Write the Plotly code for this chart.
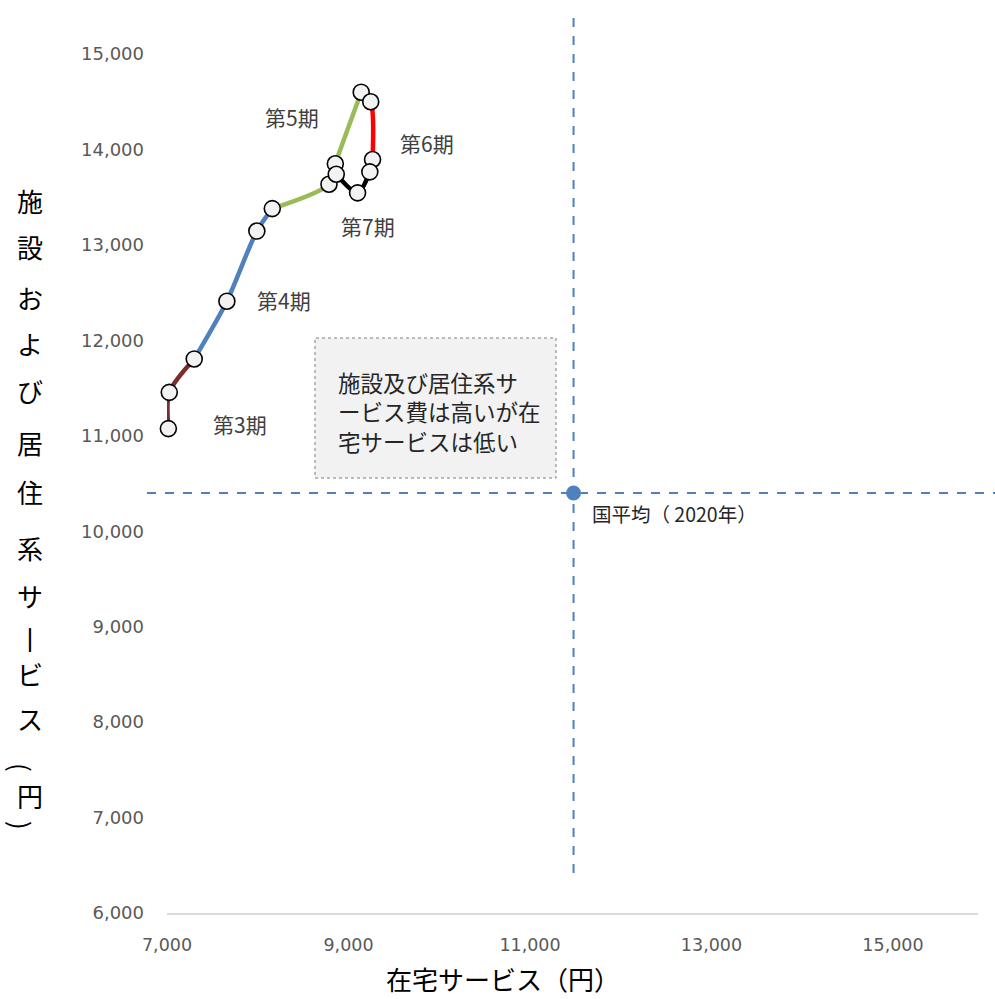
import plotly.graph_objects as go

# Yearly trajectory: home-care service cost vs facility/residential service cost (yen)
home_care = [7015, 7025, 7300, 7660, 7990, 8160, 8785, 8855, 9140, 9245, 9265, 9235, 9100, 8865]
facility = [11075, 11455, 11805, 12410, 13145, 13380, 13635, 13850, 14600, 14500, 13895, 13765, 13545, 13740]

# Insurance periods: name, first index, last index (inclusive), line colour
periods = ["第3期", "第4期", "第5期", "第6期", "第7期"]
period_start = [0, 2, 5, 8, 10]
period_end = [2, 5, 8, 10, 13]
period_colors = ["#7B2C2C", "#4F81BD", "#9BBB59", "#FF0000", "#000000"]

# Label anchor points (data coordinates) for each period name
label_x = [7804, 8289, 8377, 9865, 9215]
label_y = [11120, 12419, 14335, 14063, 13194]

# National average (2020)
nat_x = [11480]
nat_y = [10400]
nat_label = "国平均（ 2020年）"

note_text = "施設及び居住系サ<br>ービス費は高いが在<br>宅サービスは低い"

x_range = [7000, 15937]
y_range = [6000, 15000]
x_ticks = [7000, 9000, 11000, 13000, 15000]
y_ticks = [6000, 7000, 8000, 9000, 10000, 11000, 12000, 13000, 14000, 15000]

W, H = 995, 999
M_L, M_R, M_T, M_B = 167, 17, 54, 86
PLOT_W = W - M_L - M_R
PLOT_H = H - M_T - M_B


def paper_x(px):
    return (px - M_L) / PLOT_W


def paper_y(py):
    return (H - M_B - py) / PLOT_H


CJK = "Noto Sans CJK JP"
fig = go.Figure()

# Smoothed line for each period
for name, s, e, c in zip(periods, period_start, period_end, period_colors):
    fig.add_trace(go.Scatter(
        x=home_care[s:e + 1], y=facility[s:e + 1], mode="lines",
        line=dict(color=c, width=4.5, shape="spline", smoothing=0.8),
        name=name, showlegend=False, hoverinfo="skip", cliponaxis=False))

# Year markers on top
fig.add_trace(go.Scatter(
    x=home_care, y=facility, mode="markers",
    marker=dict(size=16, color="#F2F2F2", line=dict(color="#000000", width=1.6)),
    showlegend=False, cliponaxis=False))

# National average point
fig.add_trace(go.Scatter(
    x=nat_x, y=nat_y, mode="markers",
    marker=dict(size=15, color="#4F81BD"), showlegend=False, cliponaxis=False))

shapes = [
    dict(type="line", xref="x", yref="paper", x0=nat_x[0], x1=nat_x[0],
         y0=paper_y(873), y1=paper_y(15),
         line=dict(color="#4F81BD", width=2, dash="dash")),
    dict(type="line", xref="paper", yref="y", x0=paper_x(147), x1=paper_x(995),
         y0=nat_y[0], y1=nat_y[0],
         line=dict(color="#4F81BD", width=2, dash="dash")),
    dict(type="rect", xref="paper", yref="paper",
         x0=paper_x(315), x1=paper_x(556), y0=paper_y(478), y1=paper_y(338),
         fillcolor="#F2F2F2", line=dict(color="#7F7F7F", width=1, dash="dot"),
         layer="below"),
]

annotations = []
for name, lx, ly in zip(periods, label_x, label_y):
    annotations.append(dict(x=lx, y=ly, xref="x", yref="y", text=name, showarrow=False,
                            xanchor="center", yanchor="middle",
                            font=dict(family=CJK, size=21, color="#404040")))

annotations.append(dict(x=11661, y=10188, xref="x", yref="y", text=nat_label,
                        showarrow=False, xanchor="left", yanchor="middle",
                        font=dict(family=CJK, size=19.5, color="#262626")))

annotations.append(dict(x=paper_x(336), y=paper_y(411), xref="paper", yref="paper",
                        text=note_text, showarrow=False, xanchor="left", yanchor="middle",
                        align="left",
                        font=dict(family=CJK, size=22.5, color="#262626")))

# Vertical y-axis title, one character per line; brackets are turned upright
title_chars = ["施", "設", "お", "よ", "び", "居", "住", "系", "サ", "丨", "ビ", "ス", "(", "円", ")"]
title_py = [200, 247, 297, 343, 390, 443, 492, 547, 595, 638, 673, 718, 767, 795, 825]
title_px = [30, 30, 30, 30, 30, 30, 30, 30, 30, 30, 30, 30, 22, 30, 22]
title_rot = [0, 0, 0, 0, 0, 0, 0, 0, 0, 0, 0, 0, 90, 0, 90]
for ch, px, py, rot in zip(title_chars, title_px, title_py, title_rot):
    annotations.append(dict(x=paper_x(px), y=paper_y(py), xref="paper", yref="paper",
                            text=ch, showarrow=False, xanchor="center", yanchor="middle",
                            textangle=rot,
                            font=dict(family=CJK, size=26, color="#000000")))

annotations.append(dict(x=paper_x(503), y=paper_y(978), xref="paper", yref="paper",
                        text="在宅サービス（円）", showarrow=False,
                        xanchor="center", yanchor="middle",
                        font=dict(family=CJK, size=26, color="#000000")))

fig.update_layout(
    width=W, height=H,
    margin=dict(l=M_L, r=M_R, t=M_T, b=M_B),
    paper_bgcolor="white", plot_bgcolor="white",
    shapes=shapes, annotations=annotations,
    showlegend=False,
)
fig.update_xaxes(range=x_range, tickvals=x_ticks, tickformat=",d",
                 showgrid=False, zeroline=False,
                 showline=True, linecolor="#D9D9D9", linewidth=2,
                 ticks="", ticklabelstandoff=15,
                 tickfont=dict(family="DejaVu Sans", size=17.5, color="#595959"))
fig.update_yaxes(range=y_range, tickvals=y_ticks, tickformat=",d",
                 showgrid=False, zeroline=False, showline=False,
                 ticks="", ticklabelstandoff=22,
                 tickfont=dict(family="DejaVu Sans", size=18, color="#595959"))

fig.write_html("out.html")
